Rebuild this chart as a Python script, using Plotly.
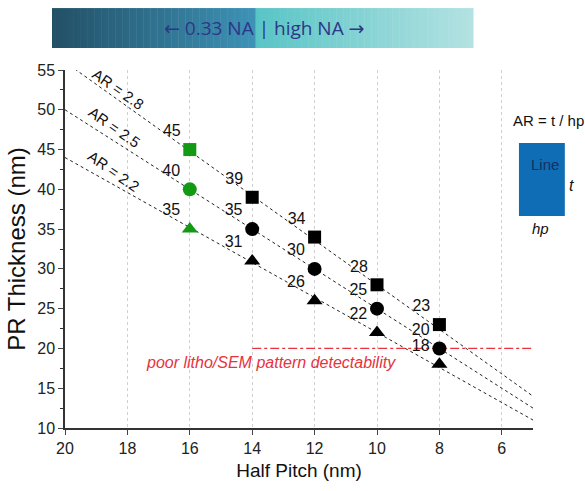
import numpy as np
import plotly.graph_objects as go

half_pitch = [16, 14, 12, 10, 8]
t_ar28 = [45, 39, 34, 28, 23]
t_ar25 = [40, 35, 30, 25, 20]
t_ar22 = [35, 31, 26, 22, 18]
ar_values = [2.8, 2.5, 2.2]
line_x = [20, 5]
marker_colors = ["#139a15", "black", "black", "black", "black"]
y_ticks = [10, 15, 20, 25, 30, 35, 40, 45, 50, 55]
x_ticks = [20, 18, 16, 14, 12, 10, 8, 6]

fig = go.Figure()

# AR guide lines
for ar in ar_values:
    fig.add_trace(go.Scatter(
        x=line_x, y=[ar * v for v in line_x], mode="lines",
        line=dict(color="#222", width=1, dash="dot"),
        hoverinfo="skip", showlegend=False, cliponaxis=True))

# threshold line
fig.add_trace(go.Scatter(
    x=[14, 5], y=[20, 20], mode="lines",
    line=dict(color="#e8323c", width=1.2, dash="dashdot"),
    showlegend=False))

for vals, sym, sz in [(t_ar28, "square", 13), (t_ar25, "circle", 14), (t_ar22, "triangle-up", 14)]:
    fig.add_trace(go.Scatter(
        x=half_pitch, y=vals, mode="markers+text",
        marker=dict(symbol=sym, size=sz, color=marker_colors),
        text=[str(v) for v in vals], textposition="top left",
        textfont=dict(family="Arial", size=16, color="#111"),
        showlegend=False, cliponaxis=False))

# AR labels
ar_label_pos = [(18.27, 52.6), (18.4, 47.8), (18.43, 42.2)]
for ar, (lx, ly) in zip(ar_values, ar_label_pos):
    fig.add_annotation(x=lx, y=ly, text=f"AR = {ar}", showarrow=False,
                       xanchor="center", yanchor="middle",
                       textangle=35, font=dict(family="Arial", size=15, color="#111"))

fig.add_annotation(x=13.4, y=18.2, text="<i>poor litho/SEM pattern detectability</i>",
                   showarrow=False, xanchor="center", yanchor="middle",
                   font=dict(family="Arial", size=16, color="#e8323c"))

# banner gradient
shapes = []
x0, x1 = -0.0278, 0.8718
y0, y1 = 1.0615, 1.173
n = 120
stops_pos = [0.0, 0.48, 0.481, 1.0]
stops_col = [np.array([0x22, 0x50, 0x66]), np.array([0x3d, 0x92, 0xb6]),
             np.array([0x58, 0xc4, 0xc6]), np.array([0xb4, 0xe2, 0xe2])]
for i in range(n):
    f = (i + 0.5) / n
    for k in range(len(stops_pos) - 1):
        if stops_pos[k] <= f <= stops_pos[k + 1]:
            a = (f - stops_pos[k]) / (stops_pos[k + 1] - stops_pos[k])
            c = stops_col[k] * (1 - a) + stops_col[k + 1] * a
            break
    col = "rgb(%d,%d,%d)" % tuple(int(round(v)) for v in c)
    xa = x0 + (x1 - x0) * i / n
    xb = x0 + (x1 - x0) * (i + 1) / n + 0.001
    shapes.append(dict(type="rect", xref="paper", yref="paper", x0=xa, x1=xb,
                       y0=y0, y1=y1, fillcolor=col, line=dict(width=0), layer="below"))

# Line rectangle
shapes.append(dict(type="rect", xref="paper", yref="paper", x0=0.970, x1=1.068,
                   y0=0.592, y1=0.796, fillcolor="#0e6db5", line=dict(width=0)))

def note(x, y, text, size, color="#111", family="Arial"):
    fig.add_annotation(xref="paper", yref="paper", x=x, y=y, text=text, showarrow=False,
                       xanchor="center", yanchor="middle",
                       font=dict(family=family, size=size, color=color))

note((x0 + x1) / 2 + 0.005, (y0 + y1) / 2, "\u2190 0.33 NA | high NA \u2192", 19,
     color="#2d3787", family="Open Sans, DejaVu Sans")
note(1.034, 0.860, "AR = t / hp", 15)
note(1.026, 0.735, "Line", 15, color="#17305e")
note(1.083, 0.676, "<i>t</i>", 16)
note(1.017, 0.556, "<i>hp</i>", 15)

fig.update_layout(
    width=585, height=491,
    margin=dict(l=65, r=52, t=70, b=63),
    paper_bgcolor="white", plot_bgcolor="white",
    shapes=shapes,
    font=dict(family="Arial", color="#222"),
    xaxis=dict(range=[20, 5], tickvals=x_ticks, ticks="outside", ticklen=5,
               showline=True, linecolor="#333", linewidth=1.5,
               showgrid=True, gridcolor="#d0d0d0", griddash="dot", gridwidth=1,
               zeroline=False, tickfont=dict(size=16, color="#222"),
               title=dict(text="Half Pitch (nm)", font=dict(size=19, color="#111"), standoff=8)),
    yaxis=dict(range=[10, 55], tickvals=y_ticks, ticks="outside", ticklen=5,
               showline=True, linecolor="#333", linewidth=1.5, showgrid=False,
               zeroline=False, tickfont=dict(size=16, color="#222"),
               minor=dict(dtick=2.5, ticks="outside", ticklen=3, tickcolor="#333"),
               title=dict(text="PR Thickness (nm)", font=dict(size=24, color="#111"), standoff=5)),
)

fig.write_html("out.html")
